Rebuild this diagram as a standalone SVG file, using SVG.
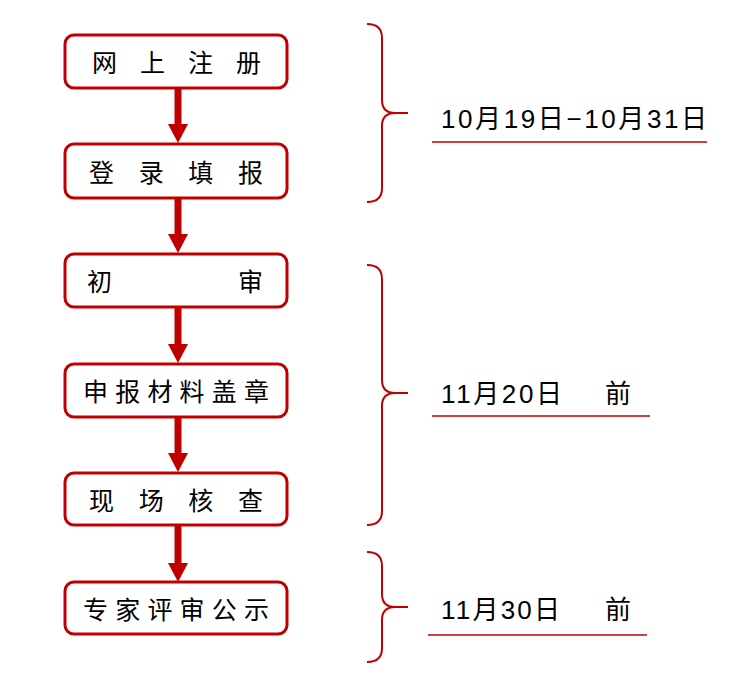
<svg xmlns="http://www.w3.org/2000/svg" width="731" height="691" viewBox="0 0 731 691">
<defs>
<style>
.box{fill:#fff;stroke:#C00000;stroke-width:3}
.bt{font-family:"Noto Sans CJK SC",sans-serif;font-size:25px;fill:#000}
.dt{font-family:"Liberation Sans","Noto Sans CJK SC",sans-serif;font-size:26px;fill:#000}
.br{fill:none;stroke:#C00000;stroke-width:2}
.ul{stroke:#C00000;stroke-width:1.3}
.sh{stroke:#C00000;stroke-width:7}
.ah{fill:#C00000}
</style>
</defs>
<rect width="731" height="691" fill="#fff"/>
<g id="connectors">
<line class="sh" x1="178" y1="88" x2="178" y2="126"/><polygon class="ah" points="168,124 188,124 178,143"/>
<line class="sh" x1="178" y1="198" x2="178" y2="236"/><polygon class="ah" points="168,234 188,234 178,253"/>
<line class="sh" x1="178" y1="307" x2="178" y2="346"/><polygon class="ah" points="168,344 188,344 178,363"/>
<line class="sh" x1="178" y1="417" x2="178" y2="455"/><polygon class="ah" points="168,453 188,453 178,472"/>
<line class="sh" x1="178" y1="525" x2="178" y2="565"/><polygon class="ah" points="168,563 188,563 178,582"/>
</g>
<g id="n1"><rect class="box" x="65" y="35" width="222" height="53" rx="9"/><text class="bt" x="92" y="72" textLength="169" lengthAdjust="spacing">网上注册</text></g>
<g id="n2"><rect class="box" x="65" y="144" width="222" height="54" rx="9"/><text class="bt" x="89" y="182" textLength="174" lengthAdjust="spacing">登录填报</text></g>
<g id="n3"><rect class="box" x="65" y="254" width="222" height="53" rx="9"/><text class="bt" x="87" y="291" textLength="176" lengthAdjust="spacing">初审</text></g>
<g id="n4"><rect class="box" x="65" y="364" width="222" height="53" rx="9"/><text class="bt" x="83" y="401" textLength="186" lengthAdjust="spacing">申报材料盖章</text></g>
<g id="n5"><rect class="box" x="65" y="473" width="222" height="52" rx="9"/><text class="bt" x="89" y="510" textLength="174" lengthAdjust="spacing">现场核查</text></g>
<g id="n6"><rect class="box" x="65" y="582" width="222" height="52" rx="9"/><text class="bt" x="83" y="619" textLength="186" lengthAdjust="spacing">专家评审公示</text></g>
<g id="b1">
<path class="br" d="M367,24 Q382,24 382,38 L382,100 Q382,113 395,113 L408,113 M395,113 Q382,113 382,126 L382,188 Q382,202 367,202"/>
<text class="dt" x="441" y="128" textLength="266" lengthAdjust="spacing">10月19日−10月31日</text>
<line class="ul" x1="432" y1="142" x2="707" y2="142"/>
</g>
<g id="b2">
<path class="br" d="M367,265 Q382,265 382,279 L382,380 Q382,393 395,393 L408,393 M395,393 Q382,393 382,406 L382,511 Q382,525 367,525"/>
<text class="dt" x="441" y="403" textLength="121" lengthAdjust="spacing">11月20日</text>
<text class="dt" x="605" y="403">前</text>
<line class="ul" x1="432" y1="416" x2="650" y2="416"/>
</g>
<g id="b3">
<path class="br" d="M367,552 Q382,552 382,566 L382,594 Q382,607 395,607 L408,607 M395,607 Q382,607 382,620 L382,648 Q382,662 367,662"/>
<text class="dt" x="441" y="619" textLength="119" lengthAdjust="spacing">11月30日</text>
<text class="dt" x="605" y="619">前</text>
<line class="ul" x1="428" y1="635" x2="647" y2="635"/>
</g>
</svg>
